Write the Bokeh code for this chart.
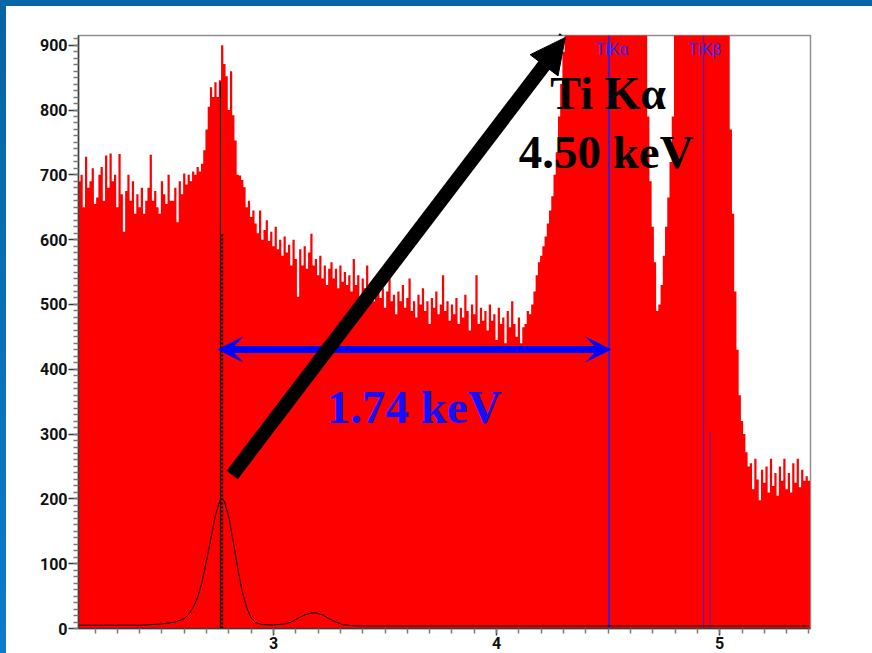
from bokeh.plotting import figure
from bokeh.models import (Range1d, SingleIntervalTicker, Label, Arrow, NormalHead,
                          VeeHead, Div)
from bokeh.layouts import column, row
from bokeh.embed import file_html
from bokeh.resources import INLINE

# ---------------- data ----------------
channel_start = 2.13      # keV, centre of first channel
channel_width = 0.01      # keV

counts = [
    690, 700, 650, 728, 680, 690, 710, 655, 665, 700,   # 2.13-2.22
    712, 660, 730, 680, 733, 690, 700, 650, 732, 670,   # 2.23-2.32
    612, 675, 700, 660, 690, 640, 670, 650, 680, 640,   # 2.33-2.42
    660, 680, 731, 660, 675, 650, 640, 690, 670, 655,   # 2.43-2.52
    700, 660, 660, 680, 627, 690, 670, 702, 685, 700,   # 2.53-2.62
    690, 705, 700, 712, 705, 717, 738, 770, 805, 835,   # 2.63-2.72
    820, 843, 820, 846, 900, 871, 852, 800, 860, 792,   # 2.73-2.82
    753, 700, 699, 692, 681, 650, 660, 635, 645, 625,   # 2.83-2.92
    610, 645, 600, 615, 630, 598, 612, 590, 620, 585,   # 2.93-3.02
    600, 575, 605, 580, 592, 560, 600, 570, 512, 585,   # 3.03-3.12
    560, 590, 555, 580, 609, 560, 570, 545, 575, 540,   # 3.13-3.22
    560, 530, 555, 565, 540, 555, 525, 560, 535, 550,   # 3.23-3.32
    530, 545, 520, 570, 530, 545, 510, 540, 525, 560,   # 3.33-3.42
    515, 535, 505, 530, 545, 510, 525, 495, 520, 540,   # 3.43-3.52
    505, 515, 485, 520, 505, 530, 495, 510, 540, 490,   # 3.53-3.62
    505, 480, 515, 500, 525, 490, 505, 470, 510, 495,   # 3.63-3.72
    520, 485, 500, 545, 490, 505, 475, 500, 485, 510,   # 3.73-3.82
    470, 495, 480, 515, 490, 460, 500, 485, 545, 470,   # 3.83-3.92
    495, 475, 490, 460, 500, 475, 485, 445, 495, 470,   # 3.93-4.02
    480, 440, 490, 465, 505, 470, 450, 480, 440, 465,   # 4.03-4.12
    470, 490, 485, 500, 520, 545, 565, 575, 590, 605,   # 4.13-4.22
    625, 645, 667, 700, 735, 790, 840, 890, 950, 1020,  # 4.23-4.32
    1080, 1170, 1270, 1380, 1500, 1620, 1750, 1880, 2000, 2120,  # 4.33-4.42
    2230, 2330, 2410, 2470, 2520, 2550, 2560, 2560, 2550, 2520,  # 4.43-4.52
    2470, 2400, 2320, 2220, 2100, 1970, 1830, 1680, 1530, 1380,  # 4.53-4.62
    1240, 1110, 1000, 960, 930, 790, 690, 620, 565, 490,         # 4.63-4.72
    500, 530, 575, 620, 665, 720, 790, 930, 1000, 1080,          # 4.73-4.82
    1150, 1210, 1260, 1300, 1330, 1350, 1360, 1360, 1350, 1330,  # 4.83-4.92
    1300, 1260, 1210, 1150, 1090, 1040, 1000, 980, 970, 960,     # 4.93-5.02
    955, 960, 770, 640, 520, 430, 360, 320, 300, 272,            # 5.03-5.12
    250, 255, 215, 262, 230, 198, 245, 225, 250, 210,   # 5.13-5.22
    262, 220, 240, 205, 250, 228, 262, 215, 240, 210,   # 5.23-5.32
    255, 225, 262, 218, 245, 228, 235, 228,             # 5.33-5.40
]
# channel left edges (plus the final right edge) for a filled step histogram
edges = [round(channel_start - channel_width / 2 + channel_width * i, 4)
         for i in range(len(counts) + 1)]
step_counts = counts + [counts[-1]]

# fitted escape-peak model curve (black)
model_energy = [2.13, 2.40, 2.50, 2.56, 2.60, 2.62, 2.64, 2.66, 2.68, 2.70, 2.72,
                2.74, 2.76, 2.77, 2.78, 2.80, 2.82, 2.84, 2.86, 2.88, 2.90, 2.92,
                2.95, 3.00, 3.05, 3.08, 3.11, 3.14, 3.17, 3.19, 3.22, 3.25, 3.28,
                3.31, 3.35, 3.40, 5.40]
model_counts = [5, 5, 7, 10, 15, 22, 32, 48, 72, 105, 140,
                175, 198, 201, 196, 172, 133, 92, 57, 32, 16, 9,
                6, 5.5, 7, 10, 16, 21, 24, 24, 21, 15, 10,
                6, 4.5, 4, 4]

# element marker lines (KLM markers)
marker_names = ["TiKα", "TiKβ"]
marker_energy = [4.504, 4.928]
kb_minor_energy = 4.957
kb_minor_height = 304
escape_energy = 2.762
escape_line_top = 843
escape_dotted_energy = 2.768
escape_dotted_top = 610

x_ticks = [3, 4, 5]
y_ticks = [0, 100, 200, 300, 400, 500, 600, 700, 800, 900]

# annotation endpoints (keV, counts)
black_arrow = dict(x0=2.815, y0=237, x1=4.308, y1=912)
blue_arrow = dict(x0=2.752, y0=430.5, x1=4.510, y1=430.5)

# ---------------- figure ----------------
SANS = "Roboto"
SERIF = "Liberation Serif"

p = figure(width=866, height=647, output_backend="svg", toolbar_location=None,
           x_range=Range1d(2.126, 5.407), y_range=Range1d(0, 915),
           min_border_left=72, min_border_right=62, min_border_top=29,
           min_border_bottom=25)
p.background_fill_color = "white"
p.border_fill_color = "white"
p.outline_line_color = "#8f8f8f"
p.outline_line_width = 1.5
p.xgrid.visible = False
p.ygrid.visible = False

# spectrum (filled step histogram)
p.varea_step(x=edges, y1=[0] * len(edges), y2=step_counts, step_mode="after",
             fill_color="#ff0000")

# markers
p.segment(x0=[escape_energy], y0=[0], x1=[escape_energy], y1=[escape_line_top],
          line_color="#000000", line_width=1)
p.segment(x0=[escape_dotted_energy], y0=[0], x1=[escape_dotted_energy],
          y1=[escape_dotted_top], line_color="#000000", line_width=3, line_dash="2 2")
p.segment(x0=[marker_energy[0]], y0=[0], x1=[marker_energy[0]], y1=[915],
          line_color="#3b1fd6", line_width=2)
p.segment(x0=[marker_energy[1]], y0=[0], x1=[marker_energy[1]], y1=[915],
          line_color="#3b1fd6", line_width=1)
p.segment(x0=[kb_minor_energy], y0=[0], x1=[kb_minor_energy], y1=[kb_minor_height],
          line_color="#5a1fb0", line_width=1)

# model curve
p.line(model_energy, model_counts, line_color="black", line_width=1)

# axes
p.xaxis.ticker = SingleIntervalTicker(interval=1, num_minor_ticks=10)
p.yaxis.ticker = SingleIntervalTicker(interval=100, num_minor_ticks=10)
for ax in (p.xaxis[0], p.yaxis[0]):
    ax.axis_line_color = "#3a3a3a"
    ax.axis_line_width = 1.5
    ax.major_tick_line_color = "#3a3a3a"
    ax.major_tick_line_width = 1.5
    ax.minor_tick_line_color = "#7a7a7a"
    ax.minor_tick_line_width = 1.5
    ax.major_tick_in = 0
    ax.minor_tick_in = 0
    ax.major_label_text_font = SANS
    ax.major_label_text_font_style = "bold"
    ax.major_label_text_font_size = "16px"
    ax.major_label_text_color = "#111111"
p.yaxis.major_tick_out = 10
p.yaxis.minor_tick_out = 5
p.yaxis.major_label_standoff = 1
p.xaxis.major_tick_out = 7
p.xaxis.minor_tick_out = 5
p.xaxis.major_label_standoff = 1

# marker labels
for name, e, dx in zip(marker_names, marker_energy, [0.013, 0.006]):
    p.add_layout(Label(x=e + dx, y=893, text=name, text_align="center",
                       text_baseline="alphabetic", text_font=SANS,
                       text_font_size="16px", text_color="#2a2aff"))

# arrows
p.add_layout(Arrow(x_start=blue_arrow["x0"], y_start=blue_arrow["y0"],
                   x_end=blue_arrow["x1"], y_end=blue_arrow["y1"],
                   line_color="#0000ff", line_width=7,
                   start=VeeHead(size=24, fill_color="#0000ff", line_color="#0000ff"),
                   end=VeeHead(size=24, fill_color="#0000ff", line_color="#0000ff")))
p.add_layout(Arrow(x_start=black_arrow["x0"], y_start=black_arrow["y0"],
                   x_end=black_arrow["x1"], y_end=black_arrow["y1"],
                   line_color="black", line_width=14,
                   end=NormalHead(size=35, fill_color="black", line_color="black")))

# texts
p.add_layout(Label(x=4.500, y=825, text="Ti Kα", text_align="center",
                   text_baseline="alphabetic", text_font=SERIF,
                   text_font_style="bold", text_font_size="46px", text_color="black"))
p.add_layout(Label(x=4.491, y=735, text="4.50 keV", text_align="center",
                   text_baseline="alphabetic", text_font=SERIF,
                   text_font_style="bold", text_font_size="47px", text_color="black"))
p.add_layout(Label(x=3.631, y=342, text="1.74 keV", text_align="center",
                   text_baseline="alphabetic", text_font=SERIF,
                   text_font_style="bold", text_font_size="47px", text_color="#1010ff"))
p.add_layout(Label(x=5.438, y=12, text="keV", text_align="left",
                   text_baseline="alphabetic", text_font=SANS,
                   text_font_style="bold", text_font_size="16px", text_color="#111111"))

# blue frame bands
top_band = Div(text="", width=872, height=6, margin=0,
               styles={"background-color": "#0766a8"})
left_band = Div(text="", width=6, height=647, margin=0,
                styles={"background": "linear-gradient(to bottom, #0764a6, #0a7ccc)"})
layout = column(top_band, row(left_band, p, spacing=0), spacing=0)

open("out.html", "w").write(file_html(layout, INLINE))
